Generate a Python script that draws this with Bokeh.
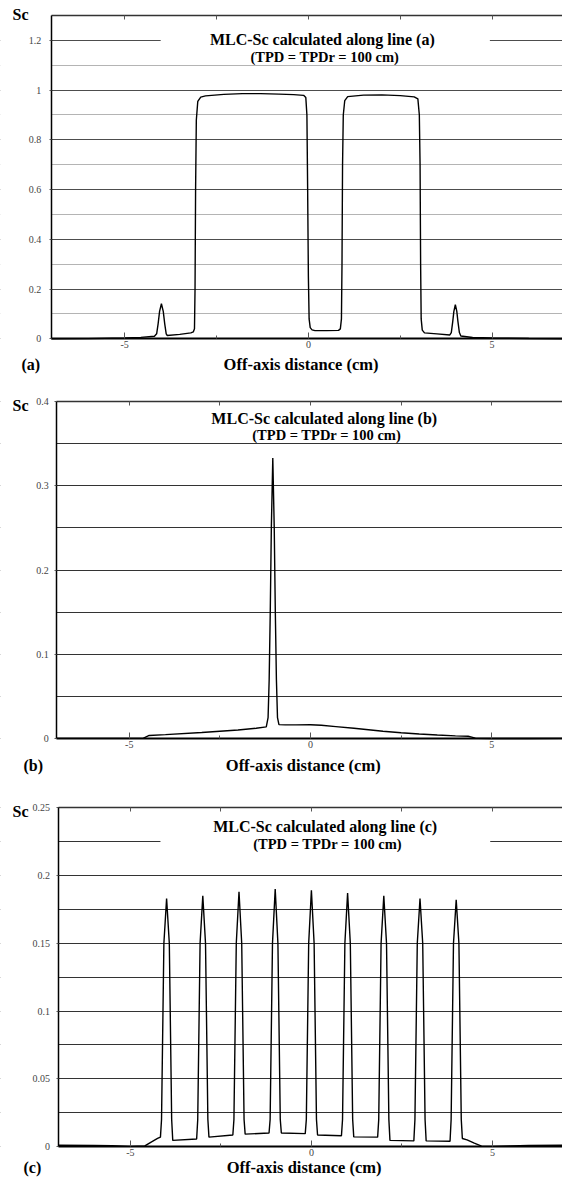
from bokeh.plotting import figure
from bokeh.models import Range1d, LinearAxis, FixedTicker, Grid, Label, BoxAnnotation
from bokeh.layouts import column
from bokeh.embed import file_html
from bokeh.resources import INLINE

SERIF = "Liberation Serif"

# shared x axis: off-axis distance in cm
x_ticks = [-5, 0, 5]
x_minor_ticks = [-2.5, 2.5]
x_tick_labels = ["-5", "0", "5"]
X_MIN = -7

# (a) MLC-Sc along line (a)
a_x = [-7.0, -6.0, -5.0, -4.56, -4.19, -4.13, -4.09, -4.05, -4.0, -3.95, -3.91, -3.87, -3.84,
       -3.5, -3.2, -3.13, -3.1, -3.085, -3.07, -3.05, -3.01, -2.93, -2.8, -2.3, -1.8, -1.3,
       -0.8, -0.4, -0.13, -0.07, -0.04, -0.02, 0.0, 0.02, 0.05, 0.1, 0.18, 0.5, 0.82, 0.87,
       0.9, 0.915, 0.93, 0.95, 0.99, 1.07, 1.5, 2.0, 2.5, 2.88, 2.98, 3.02, 3.04, 3.055, 3.07,
       3.1, 3.16, 3.5, 3.85, 3.89, 3.93, 3.96, 4.0, 4.04, 4.07, 4.11, 4.15, 4.47, 5.0, 6.0, 7.0]
a_sc = [0.0, 0.0008, 0.003, 0.0056, 0.0103, 0.02, 0.06, 0.11, 0.141, 0.11, 0.06, 0.02, 0.0133,
        0.018, 0.024, 0.028, 0.04, 0.2, 0.6, 0.88, 0.955, 0.972, 0.977, 0.983, 0.986, 0.986,
        0.984, 0.982, 0.979, 0.97, 0.9, 0.6, 0.25, 0.08, 0.045, 0.036, 0.033, 0.033, 0.034, 0.04,
        0.08, 0.3, 0.7, 0.9, 0.958, 0.974, 0.980, 0.981, 0.978, 0.973, 0.965, 0.9, 0.7, 0.3, 0.08,
        0.035, 0.024, 0.02, 0.0155, 0.025, 0.07, 0.11, 0.137, 0.11, 0.07, 0.025, 0.011, 0.0055,
        0.003, 0.001, 0.0]
a_y_ticks = [0, 0.2, 0.4, 0.6, 0.8, 1.0, 1.2]
a_y_tick_labels = ["0", "0.2", "0.4", "0.6", "0.8", "1", "1.2"]
a_y_minor = [0.1, 0.3, 0.5, 0.7, 0.9, 1.1]

# (b) MLC-Sc along line (b)
b_x = [-7.0, -5.5, -4.62, -4.55, -4.45, -4.0, -3.0, -2.0, -1.5, -1.22,
       -1.17, -1.14, -1.11, -1.08, -1.04, -1.0, -0.97, -0.94, -0.91, -0.87,
       -0.7, -0.4, 0.0, 0.3, 0.7, 1.2, 2.0, 2.5, 3.0, 3.5,
       4.0, 4.35, 4.45, 4.55, 4.62, 5.0, 6.0, 7.0]
b_sc = [0.0005, 0.0005, 0.0005, 0.002, 0.004, 0.005, 0.0075, 0.0105, 0.0125, 0.0142,
        0.025, 0.07, 0.15, 0.25, 0.333, 0.25, 0.15, 0.07, 0.025, 0.0168,
        0.0165, 0.0165, 0.0166, 0.016, 0.0145, 0.0125, 0.009, 0.0072, 0.0057, 0.0045,
        0.0035, 0.003, 0.002, 0.0008, 0.0005, 0.0004, 0.0004, 0.0005]
b_y_ticks = [0, 0.1, 0.2, 0.3, 0.4]
b_y_tick_labels = ["0", "0.1", "0.2", "0.3", "0.4"]
b_y_minor = [0.05, 0.15, 0.25, 0.35]

# (c) MLC-Sc along line (c)
c_x = [-7.0, -6.0, -5.5, -5.0, -4.6, -4.45, -4.25, -4.17, -4.14, -4.10, -4.075, -4.0, -3.925, -3.90, -3.86, -3.83,
       -3.17, -3.14, -3.10, -3.075, -3.0, -2.925, -2.90, -2.86, -2.83,
       -2.17, -2.14, -2.10, -2.075, -2.0, -1.925, -1.90, -1.86, -1.83,
       -1.17, -1.14, -1.10, -1.075, -1.0, -0.925, -0.90, -0.86, -0.83,
       -0.17, -0.14, -0.10, -0.075, 0.0, 0.075, 0.10, 0.14, 0.17,
       0.83, 0.86, 0.90, 0.925, 1.0, 1.075, 1.10, 1.14, 1.17,
       1.83, 1.86, 1.90, 1.925, 2.0, 2.075, 2.10, 2.14, 2.17,
       2.83, 2.86, 2.90, 2.925, 3.0, 3.075, 3.10, 3.14, 3.17,
       3.83, 3.86, 3.90, 3.925, 4.0, 4.075, 4.10, 4.14, 4.17,
       4.3, 4.5, 4.7, 5.0, 5.5, 6.0, 7.0]
c_sc = [0.0010, 0.0009, 0.0006, 0.0002, 0.0005, 0.003, 0.006, 0.007, 0.02, 0.10, 0.15, 0.183, 0.15, 0.10, 0.02, 0.0046,
        0.0056, 0.02, 0.10, 0.15, 0.185, 0.15, 0.10, 0.02, 0.0070,
        0.0086, 0.02, 0.10, 0.15, 0.188, 0.15, 0.10, 0.02, 0.0092,
        0.0100, 0.02, 0.10, 0.15, 0.190, 0.15, 0.10, 0.02, 0.0100,
        0.0096, 0.02, 0.10, 0.15, 0.189, 0.15, 0.10, 0.02, 0.0086,
        0.0080, 0.02, 0.10, 0.15, 0.187, 0.15, 0.10, 0.02, 0.0072,
        0.0070, 0.02, 0.10, 0.15, 0.185, 0.15, 0.10, 0.02, 0.0046,
        0.0042, 0.02, 0.10, 0.15, 0.183, 0.15, 0.10, 0.02, 0.0042,
        0.0040, 0.02, 0.10, 0.15, 0.182, 0.15, 0.10, 0.02, 0.006,
        0.005, 0.0025, 0.0003, 0.0002, 0.0005, 0.0008, 0.0010]
c_y_ticks = [0, 0.05, 0.1, 0.15, 0.2, 0.25]
c_y_tick_labels = ["0", "0.05", "0.1", "0.15", "0.2", "0.25"]
c_y_minor = [0.025, 0.075, 0.125, 0.175, 0.225]

SUBTITLE = "(TPD = TPDr = 100 cm)"
X_LABEL = "Off-axis distance (cm)"
WIDTH = 562


def text_label(**kw):
    base = dict(text_font=SERIF, text_font_style="bold", text_font_size="16px",
                text_color="black", text_baseline="middle")
    base.update(kw)
    return Label(**base)


def panel(xs, ys, tag, y_top, y_ticks, y_labels, y_minor, height, axis_px, px_per_cm,
          top_px, zero_px, major_color, minor_color, title_dy, sub_dy, label_dy,
          tag_px, sc_dy, y_standoff, gap=None):
    # the frame fills the whole canvas; axes sit at fixed data positions
    px_per_unit = (zero_px - top_px) / y_top
    x_start = X_MIN - axis_px / px_per_cm
    x_end = X_MIN + (WIDTH - axis_px) / px_per_cm
    y_start = -(height - zero_px) / px_per_unit
    y_end = y_top + top_px / px_per_unit

    p = figure(width=WIDTH, height=height, x_range=Range1d(x_start, x_end),
               y_range=Range1d(y_start, y_end), x_axis_type=None, y_axis_type=None,
               output_backend="svg", toolbar_location=None,
               min_border_left=0, min_border_right=0, min_border_top=0, min_border_bottom=0)
    p.outline_line_color = None
    p.background_fill_color = "white"
    p.border_fill_color = "white"

    yt = FixedTicker(ticks=y_ticks, minor_ticks=y_minor)
    p.add_layout(Grid(dimension=1, ticker=yt, grid_line_color=major_color, grid_line_width=1.2,
                      minor_grid_line_color=minor_color, minor_grid_line_width=1.2))
    # blank margin left of the y axis
    p.add_layout(BoxAnnotation(left=x_start, right=X_MIN, bottom=y_start, top=y_end,
                               fill_color="white", fill_alpha=1.0, line_alpha=0,
                               level="underlay"))

    xt = FixedTicker(ticks=x_ticks, minor_ticks=x_minor_ticks)
    xb = LinearAxis(ticker=xt, fixed_location=0, bounds=(X_MIN, x_end),
                    major_label_overrides=dict(zip(x_ticks, x_tick_labels)),
                    axis_line_color="black", axis_line_width=2,
                    major_tick_in=6, major_tick_out=0, minor_tick_in=3, minor_tick_out=0,
                    major_tick_line_color="#555", minor_tick_line_color="#555",
                    major_label_standoff=2, major_label_text_font=SERIF,
                    major_label_text_font_size="10px", major_label_text_color="#444")
    p.add_layout(xb, "below")
    xt_top = FixedTicker(ticks=[], minor_ticks=x_ticks + x_minor_ticks)
    xa = LinearAxis(ticker=xt_top, fixed_location=y_top, bounds=(X_MIN, x_end),
                    axis_line_color="#333", axis_line_width=1.5,
                    major_tick_in=0, major_tick_out=0, minor_tick_in=4, minor_tick_out=0,
                    minor_tick_line_color="#555")
    p.add_layout(xa, "above")
    yl = LinearAxis(ticker=yt, fixed_location=X_MIN, bounds=(0, y_top),
                    major_label_overrides=dict(zip(y_ticks, y_labels)),
                    axis_line_color="black", axis_line_width=1.5,
                    major_tick_in=0, major_tick_out=2, minor_tick_in=0, minor_tick_out=0,
                    major_tick_line_color="#555",
                    major_label_standoff=y_standoff, major_label_text_font=SERIF,
                    major_label_text_font_size="10px", major_label_text_color="#444")
    p.add_layout(yl, "left")

    p.line(xs, ys, line_color="black", line_width=1.4)

    if gap is not None:
        p.add_layout(BoxAnnotation(left=gap[0], right=gap[1], bottom=gap[2], top=gap[3],
                                   fill_color="white", fill_alpha=1.0, line_alpha=0))

    p.add_layout(text_label(x=0.38, y=y_top, y_offset=-title_dy, text_align="center",
                            text=f"MLC-Sc calculated along line {tag}"))
    p.add_layout(text_label(x=0.45, y=y_top, y_offset=-sub_dy, text_align="center",
                            text_font_size="14.5px", text=SUBTITLE))
    p.add_layout(text_label(x=X_MIN, y=y_top, x_offset=12 - axis_px, y_offset=-sc_dy,
                            text_align="left", text="Sc"))
    p.add_layout(text_label(x=X_MIN, y=0, x_offset=tag_px - axis_px, y_offset=-label_dy,
                            text_align="left", text=tag))
    p.add_layout(text_label(x=-0.2, y=0, y_offset=-label_dy, text_align="center",
                            text_font_size="16.5px", text=X_LABEL))
    return p


pa = panel(a_x, a_sc, "(a)", 1.3, a_y_ticks, a_y_tick_labels, a_y_minor,
           height=385, axis_px=50.7, px_per_cm=36.74, top_px=15, zero_px=338.3,
           major_color="#4d4d4d", minor_color="#b4b4b4",
           title_dy=24, sub_dy=41, label_dy=26, tag_px=21, sc_dy=-1, y_standoff=8,
           gap=(-4.02, 4.94, 1.17, 1.23))
pb = panel(b_x, b_sc, "(b)", 0.4, b_y_ticks, b_y_tick_labels, b_y_minor,
           height=390, axis_px=56.3, px_per_cm=36.24, top_px=16, zero_px=353.3,
           major_color="#333333", minor_color="#333333",
           title_dy=17, sub_dy=33, label_dy=27, tag_px=23, sc_dy=4, y_standoff=6)
pc = panel(c_x, c_sc, "(c)", 0.25, c_y_ticks, c_y_tick_labels, c_y_minor,
           height=405, axis_px=57.5, px_per_cm=36.2, top_px=32.1, zero_px=371.1,
           major_color="#333333", minor_color="#333333",
           title_dy=19, sub_dy=36, label_dy=21, tag_px=23, sc_dy=4, y_standoff=6,
           gap=(-4.17, 4.94, 0.22, 0.23))

page = column(pa, pb, pc)
open("out.html", "w").write(file_html(page, INLINE))
